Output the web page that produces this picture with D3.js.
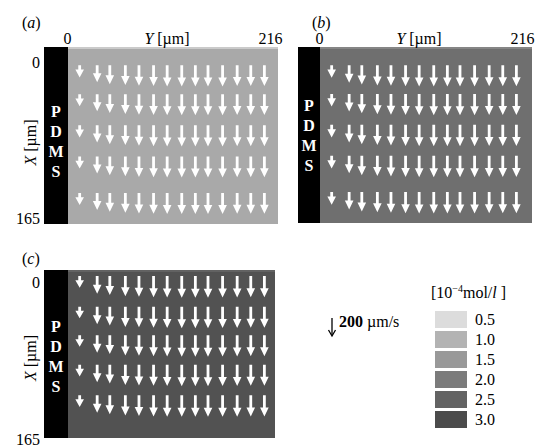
<!DOCTYPE html>
<html>
<head>
<meta charset="utf-8">
<script src="https://cdn.jsdelivr.net/npm/d3@7"></script>
<style>
  body { margin: 0; background: #fff; }
  svg text { font-family: "Liberation Serif", "Times New Roman", serif; }
</style>
</head>
<body>
<script>
'use strict'
// data
var panelNames = ["a", "b", "c"];
var panelConc = [1.2, 2.25, 2.85];             // background concentration [1e-4 mol/l]
var colY = [12, 30, 43, 59, 73, 88, 102, 117, 131, 144, 159, 174, 188, 202];  // arrow columns, Y [um]
var rowXab = [17, 44, 73, 102, 136];           // arrow rows for (a),(b), X [um]
var rowXc = [6, 36, 64, 93, 123];              // arrow rows for (c)
var velA = [135, 190, 210, 220, 228, 232, 235, 235, 235, 235, 235, 232, 232, 232];  // um/s
var velB = [140, 195, 215, 225, 230, 235, 238, 238, 238, 238, 238, 235, 235, 235];
var velC = [130, 195, 210, 225, 230, 235, 238, 240, 240, 240, 238, 238, 235, 235];
var yTicks = [0, 216];
var xTicks = [0, 165];
var legendConc = [0.5, 1.0, 1.5, 2.0, 2.5, 3.0];
var legendGray = ["#dcdcdc", "#b3b3b3", "#999999", "#7b7b7b", "#636363", "#4b4b4b"];
var refVel = 200;

var W = 549, H = 447;
var FS = 16;
var svg = d3.select("body").append("svg").attr("width", W).attr("height", H);

// concentration -> gray
var color = d3.scaleLinear().domain(legendConc).range(legendGray).clamp(true);
// velocity -> arrow length in px (200 um/s ~ 18 px)
var len = d3.scaleLinear().domain([0, refVel]).range([0, 18]);

// frame of each panel (pixels)
var frames = [
  {px: 44, fx0: 68, fx1: 278, top: 47, bot: 224, rows: rowXab, vel: velA, topAxis: true, leftAxis: true,
   lab: [22, 28], xl: [62, 218], pdms: 112},
  {px: 298, fx0: 320, fx1: 532, top: 47, bot: 223, rows: rowXab, vel: velB, topAxis: true, leftAxis: false,
   lab: [312, 28], xl: null, pdms: 106},
  {px: 44, fx0: 68, fx1: 275, top: 270, bot: 438, rows: rowXc, vel: velC, topAxis: false, leftAxis: true,
   lab: [22, 264], xl: [282, 439], pdms: 327}
];

function arrowPath(x, y0, L) {
  var hl = Math.min(9, L * 0.65), hw = 4.3, sw = 1.4;
  var y1 = y0 + L, yh = y1 - hl;
  return "M" + (x - sw) + "," + y0 + "L" + (x + sw) + "," + y0 + "L" + (x + sw) + "," + yh +
    "L" + (x + hw) + "," + yh + "L" + x + "," + y1 + "L" + (x - hw) + "," + yh +
    "L" + (x - sw) + "," + yh + "Z";
}

frames.forEach(function(f, i) {
  var g = svg.append("g");
  var yS = d3.scaleLinear().domain([0, 216]).range([f.fx0, f.fx0 + 210]);
  var xS = d3.scaleLinear().domain([0, 165]).range([f.top, f.bot]);

  // field
  g.append("rect").attr("x", f.fx0).attr("y", f.top).attr("width", f.fx1 - f.fx0).attr("height", f.bot - f.top)
    .attr("fill", color(panelConc[i]));
  g.append("rect").attr("x", f.fx0).attr("y", f.top).attr("width", f.fx1 - f.fx0).attr("height", 2)
    .attr("fill", d3.color(color(panelConc[i])).brighter(0.5));
  // PDMS wall
  g.append("rect").attr("x", f.px).attr("y", f.top).attr("width", f.fx0 - f.px).attr("height", f.bot - f.top)
    .attr("fill", "#000");
  g.selectAll("text.pdms").data(["P", "D", "M", "S"]).enter().append("text")
    .attr("class", "pdms")
    .attr("x", (f.px + f.fx0) / 2).attr("y", function(d, k) { return f.pdms + 5 + k * 20; })
    .attr("text-anchor", "middle").attr("fill", "#fff").attr("font-weight", "bold").attr("font-size", FS)
    .text(function(d) { return d; });

  // arrows
  var pts = [];
  f.rows.forEach(function(rx) { colY.forEach(function(cy, c) { pts.push({X: rx, Y: cy, v: f.vel[c]}); }); });
  g.selectAll("path.arr").data(pts).enter().append("path")
    .attr("class", "arr").attr("fill", "#fff")
    .attr("d", function(d) { return arrowPath(yS(d.Y), xS(d.X), len(d.v)); });

  // panel label
  var pl = g.append("text").attr("x", f.lab[0]).attr("y", f.lab[1]).attr("font-size", FS);
  pl.append("tspan").text("(");
  pl.append("tspan").attr("font-style", "italic").text(panelNames[i]);
  pl.append("tspan").text(")");

  if (f.topAxis) {
    var yl = d3.scaleLinear().domain([0, 216]).range([f.fx0 - 1, f.fx0 + 202]);
    var ax = g.append("g").attr("transform", "translate(0," + (f.top - 3) + ")")
      .call(d3.axisTop(yl).tickValues(yTicks).tickSize(0).tickPadding(0).tickFormat(d3.format("d")));
    ax.select(".domain").remove();
    ax.selectAll("text").attr("font-size", FS).attr("font-family", "Liberation Serif").attr("fill", "#000");
    var t = g.append("text").attr("x", f.fx0 + 99).attr("y", f.top - 3).attr("text-anchor", "middle").attr("font-size", FS);
    t.append("tspan").attr("font-style", "italic").text("Y");
    t.append("tspan").text(" [\u00b5m]");
  }
  if (f.leftAxis) {
    var xl = d3.scaleLinear().domain([0, 165]).range(f.xl);
    var axl = g.append("g").attr("transform", "translate(" + (f.px - 4) + ",0)")
      .call(d3.axisLeft(xl).tickValues(xTicks).tickSize(0).tickPadding(0).tickFormat(d3.format("d")));
    axl.select(".domain").remove();
    axl.selectAll("text").attr("font-size", FS).attr("font-family", "Liberation Serif").attr("fill", "#000");
    var cy = (f.top + f.bot) / 2 + (i == 0 ? 7 : 4);
    var xt = g.append("text").attr("transform", "translate(" + 36 + "," + cy + ") rotate(-90)")
      .attr("text-anchor", "middle").attr("font-size", FS);
    xt.append("tspan").attr("font-style", "italic").text("X");
    xt.append("tspan").text(" [\u00b5m]");
  }
});

// velocity reference
var lg = svg.append("g");
var ax0 = 332, ay0 = 318, ay1 = ay0 + len(refVel);
lg.append("line").attr("x1", ax0).attr("x2", ax0).attr("y1", ay0).attr("y2", ay1 - 1)
  .attr("stroke", "#000").attr("stroke-width", 1.3);
lg.append("path").attr("d", "M" + (ax0 - 3.5) + "," + (ay1 - 6) + "L" + ax0 + "," + ay1 + "L" + (ax0 + 3.5) + "," + (ay1 - 6))
  .attr("fill", "none").attr("stroke", "#000").attr("stroke-width", 1.3);
var vt = lg.append("text").attr("x", 339).attr("y", 327).attr("font-size", FS);
vt.append("tspan").attr("font-weight", "bold").text(refVel);
vt.append("tspan").text(" \u00b5m/s");

// concentration legend
var ht = lg.append("text").attr("x", 431).attr("y", 298).attr("font-size", FS);
ht.append("tspan").text("[10");
ht.append("tspan").attr("font-size", 10).attr("dy", -6).text("\u22124");
ht.append("tspan").attr("dy", 6).text("mol/");
ht.append("tspan").attr("font-style", "italic").text("l");
ht.append("tspan").text(" ]");

var ly = d3.scaleBand().domain(legendConc).range([311, 428]).paddingInner(0.15);
lg.selectAll("rect.sw").data(legendConc).enter().append("rect")
  .attr("class", "sw").attr("x", 435).attr("y", function(d) { return ly(d); })
  .attr("width", 32).attr("height", ly.bandwidth()).attr("fill", function(d) { return color(d); });
lg.selectAll("text.sl").data(legendConc).enter().append("text")
  .attr("class", "sl").attr("x", 475).attr("y", function(d) { return ly(d) + ly.bandwidth() / 2 + 5; })
  .attr("font-size", FS).text(function(d) { return d3.format(".1f")(d); });
</script>
</body>
</html>
